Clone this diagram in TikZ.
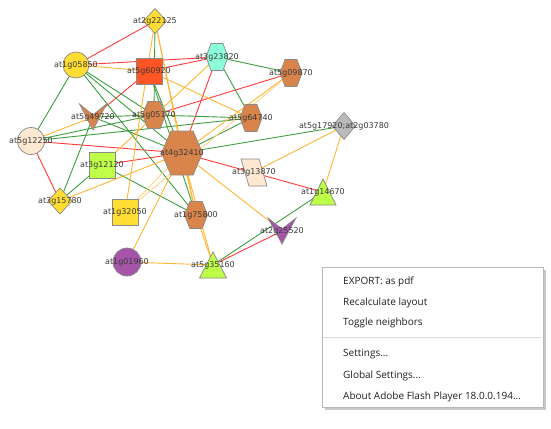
\documentclass[tikz,border=0pt]{standalone}
\usepackage{fontspec}
\setmainfont{DejaVu Sans}
\newfontfamily\menufont{Open Sans}
\pgfdeclarelayer{bgl}
\pgfdeclarelayer{edges}
\pgfsetlayers{bgl,edges,main}
\definecolor{bdr}{HTML}{8A8A8A}
\definecolor{lbltxt}{HTML}{3A3A3A}
\definecolor{cyel}{HTML}{FFDD33}
\definecolor{cred}{HTML}{FF5424}
\definecolor{caqua}{HTML}{8CFFDA}
\definecolor{cbrown}{HTML}{D9844A}
\definecolor{cpeach}{HTML}{FDE8D2}
\definecolor{clime}{HTML}{BEFF48}
\definecolor{cgray}{HTML}{BBBBBB}
\definecolor{cpurp}{HTML}{A455A8}
\definecolor{ered}{HTML}{FF3B3B}
\definecolor{egreen}{HTML}{3F9E3F}
\definecolor{eorange}{HTML}{FFB733}
\definecolor{elight}{HTML}{FFD48A}
\tikzset{
  shp/.style={draw=bdr, line width=0.7pt},
  lbl/.style={inner sep=0pt, font=\fontsize{8}{9}\selectfont, text=lbltxt},
  er/.style={draw=ered, line width=0.9pt},
  eg/.style={draw=egreen, line width=0.9pt},
  eo/.style={draw=eorange, line width=0.9pt},
  el/.style={draw=elight, line width=0.9pt},
  menuitem/.style={anchor=west, inner sep=0pt, font=\menufont\fontsize{10}{12}\selectfont, text=black!88}
}
% x, y, w, h, colour
\newcommand{\hexs}[5]{\filldraw[shp,fill=#5] (#1-#3/2,#2) -- (#1-#3*0.27,#2-#4/2) -- (#1+#3*0.27,#2-#4/2) -- (#1+#3/2,#2) -- (#1+#3*0.27,#2+#4/2) -- (#1-#3*0.27,#2+#4/2) -- cycle;}
\newcommand{\dias}[5]{\filldraw[shp,fill=#5] (#1-#3/2,#2) -- (#1,#2-#4/2) -- (#1+#3/2,#2) -- (#1,#2+#4/2) -- cycle;}
\newcommand{\tris}[5]{\filldraw[shp,fill=#5] (#1,#2-#4/2) -- (#1+#3/2,#2+#4/2) -- (#1-#3/2,#2+#4/2) -- cycle;}
\newcommand{\vees}[5]{\filldraw[shp,fill=#5] (#1-#3/2,#2-#4/2) -- (#1,#2-#4*0.08) -- (#1+#3/2,#2-#4/2) -- (#1,#2+#4/2) -- cycle;}
\begin{document}
\begin{tikzpicture}[x=1pt,y=-1pt]
\useasboundingbox (0,0) rectangle (551,428);
\begin{pgfonlayer}{bgl}
\fill[white] (0,0) rectangle (551,428);
\end{pgfonlayer}
% ---- shapes
\dias{155}{21}{23}{25}{cyel}
\filldraw[shp,fill=cyel] (76,65) circle (13);
\filldraw[shp,fill=cred] (136,58) rectangle (162,84);
\hexs{217}{57}{22}{27}{caqua}
\hexs{291}{73}{22}{27}{cbrown}
\vees{93}{117}{27}{26}{cbrown}
\hexs{154}{115}{23}{27}{cbrown}
\hexs{251}{118}{22}{27}{cbrown}
\filldraw[shp,fill=cpeach] (31,141) circle (13.5);
\hexs{182}{153}{41}{44}{cbrown}
\dias{344}{126}{23}{27}{cgray}
\filldraw[shp,fill=clime] (89,152) rectangle (115,178);
\filldraw[shp,fill=cpeach] (241,159) -- (259,159) -- (267,186) -- (249,186) -- cycle;
\dias{60}{201}{24}{26}{cyel}
\tris{323}{192}{26}{26}{clime}
\filldraw[shp,fill=cyel] (112,199) rectangle (138,225);
\hexs{196}{215}{23}{27}{cbrown}
\vees{282}{231}{28}{26}{cpurp}
\filldraw[shp,fill=cpurp] (127,262) circle (14);
\tris{213}{265}{27}{26}{clime}
% ---- labelled nodes
\node[lbl] (a) at (155,21) {at2g22125};
\node[lbl] (c) at (76,65) {at1g05850};
\node[lbl] (s) at (149,71) {at5g60920};
\node[lbl] (t) at (217,57) {at3g23820};
\node[lbl] (n) at (291,73) {at5g09870};
\node[lbl] (v) at (93,117) {at5g49720};
\node[lbl] (f) at (154,115) {at5g05170};
\node[lbl] (m) at (251,118) {at5g64740};
\node[lbl] (p) at (31,141) {at5g12250};
\node[lbl] (h) at (182,153) {at4g32410};
\node[lbl] (r) at (344,126) {at5g17920;at2g03780};
\node[lbl] (q) at (102,165) {at3g12120};
\node[lbl] (k) at (254,172) {at3g13870};
\node[lbl] (d) at (60,201) {at3g15780};
\node[lbl] (g) at (323,192) {at1g14670};
\node[lbl] (y) at (125,212) {at1g32050};
\node[lbl] (l) at (196,215) {at1g75800};
\node[lbl] (w) at (282,231) {at2g25520};
\node[lbl] (i) at (127,262) {at1g01960};
\node[lbl] (z) at (213,265) {at5g35160};
% ---- edges
\begin{pgfonlayer}{edges}
\foreach \u/\v in {a/c, c/t, s/t, s/v, t/h, f/n, h/p, h/q, h/g, p/d, w/z}
  \draw[er] (\u.center) -- (\v.center);
\foreach \u/\v in {a/f, c/f, c/h, c/p, c/l, s/h, s/l, t/n, t/m, f/m, f/v, f/p, h/m, h/r, v/d, v/h, q/d, q/l, z/g, p/m}
  \draw[eg] (\u.center) -- (\v.center);
\foreach \u/\v in {a/h, a/l, a/y, c/s, s/m, t/q, h/n, h/d, h/i, h/w, h/l, h/z, l/z, i/z, p/v, r/k, r/g}
  \draw[eo] (\u.center) -- (\v.center);
\foreach \u/\v in {h/y, n/y}
  \draw[el] (\u.center) -- (\v.center);
\end{pgfonlayer}
% ---- context menu
\fill[black!22] (325,270) rectangle (546,410);
\filldraw[fill=white, draw=black!28, line width=0.6pt] (322,267) rectangle (543,407);
\draw[black!14, line width=0.6pt] (323,337) -- (542,337);
\node[menuitem] (m1) at (343,282) {EXPORT: as pdf};
\node[menuitem] (m2) at (343,303) {Recalculate layout};
\node[menuitem] (m3) at (343,323) {Toggle neighbors};
\node[menuitem] (m4) at (343,354) {Settings...};
\node[menuitem] (m5) at (343,376) {Global Settings...};
\node[menuitem] (m6) at (343,397) {About Adobe Flash Player 18.0.0.194...};
\end{tikzpicture}
\end{document}
